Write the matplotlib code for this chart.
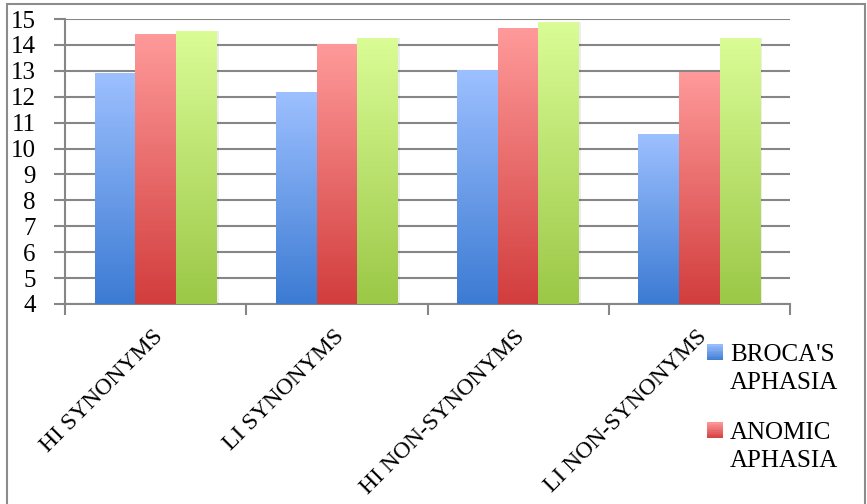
import matplotlib.pyplot as plt
import numpy as np
from matplotlib.colors import LinearSegmentedColormap, to_rgb
from matplotlib.patches import Rectangle
from matplotlib.legend_handler import HandlerBase

categories = ["HI SYNONYMS", "LI SYNONYMS", "HI NON-SYNONYMS", "LI NON-SYNONYMS"]
series_names = ["BROCA'S\nAPHASIA", "ANOMIC\nAPHASIA", "OTHER"]
brocas = [12.9, 12.15, 13.0, 10.53]
anomic = [14.42, 14.03, 14.64, 12.93]
third = [14.5, 14.23, 14.86, 14.23]

# (top colour, bottom colour) for each series gradient
shades = [("#9dc0ff", "#3c7bd3"), ("#ff9a9a", "#d23d3d"), ("#dafc96", "#9bc847")]

plt.rcParams['font.family'] = ['Liberation Serif', 'DejaVu Serif']

fig = plt.figure(figsize=(8.67, 5.04), dpi=100)
ax = fig.add_axes([65 / 867, 1 - 304 / 504, 725 / 867, 285 / 504])

ymin = 4
x = np.arange(len(categories))
w = 0.224
grad = np.linspace(1, 0, 256).reshape(-1, 1)

for i, vals in enumerate([brocas, anomic, third]):
    cmap = LinearSegmentedColormap.from_list("s%d" % i, [shades[i][1], shades[i][0]])
    for xi, v in zip(x, vals):
        x0 = xi + (i - 1.5) * w
        # soft shadow to the right of each bar
        ax.add_patch(Rectangle((x0 + 0.012, ymin), w, v - ymin + 0.02,
                               facecolor="#000000", alpha=0.07, lw=0, zorder=2))
        ax.imshow(grad, extent=(x0, x0 + w, ymin, v), aspect="auto",
                  cmap=cmap, vmin=0, vmax=1, zorder=3, interpolation="bilinear")

ax.set_xlim(-0.5, len(categories) - 0.5)
ax.set_ylim(ymin, 15)
ax.set_yticks(range(4, 16))
ax.tick_params(axis="y", labelsize=18, length=8, width=1.5, color="#868686", pad=13)
ax.yaxis.grid(True, color="#868686", lw=1.5, zorder=0)
ax.set_axisbelow(True)

ax.set_xticks(np.arange(len(categories) + 1) - 0.5)
ax.set_xticklabels([])
ax.tick_params(axis="x", length=8, width=1.5, color="#868686")
for xi, lab in zip(x, categories):
    ax.text(xi - 0.02, ymin - 0.85, lab, rotation=45, ha="right", va="top",
            rotation_mode="anchor", fontsize=17)

for s in ["top", "right"]:
    ax.spines[s].set_visible(False)
for s in ["left", "bottom"]:
    ax.spines[s].set_color("#868686")
    ax.spines[s].set_linewidth(1.5)


class GradientHandler(HandlerBase):
    # small square with a vertical gradient, lined up with the first text line
    def create_artists(self, legend, orig_handle, xd, yd, width, height, fontsize, trans):
        top, bottom = orig_handle
        c0, c1 = np.array(to_rgb(bottom)), np.array(to_rgb(top))
        lift = 0.72 * fontsize
        n = 10
        arts = []
        for k in range(n):
            f = (k + 0.5) / n
            arts.append(Rectangle((xd, yd + lift + k * height / n), width, height / n + 0.3,
                                  facecolor=c0 + (c1 - c0) * f, lw=0, transform=trans))
        return arts


handles = [shades[0], shades[1]]
leg = fig.legend(handles, series_names[:2], handler_map={tuple: GradientHandler()},
                 loc="upper left", bbox_to_anchor=(707 / 867, 1 - 344 / 504),
                 frameon=False, fontsize=18, handlelength=0.62, handleheight=0.62,
                 handletextpad=0.3, labelspacing=1.1, borderaxespad=0, borderpad=0)
for t in leg.get_texts():
    t.set_linespacing(1.38)

# chart frame
fig.add_artist(Rectangle((7 / 867, -0.02), 858 / 867, 1 - 4 / 504 + 0.02,
                         transform=fig.transFigure, fill=False,
                         edgecolor="#8c8c8c", lw=1.5))

fig.savefig("out.png", dpi=100)
